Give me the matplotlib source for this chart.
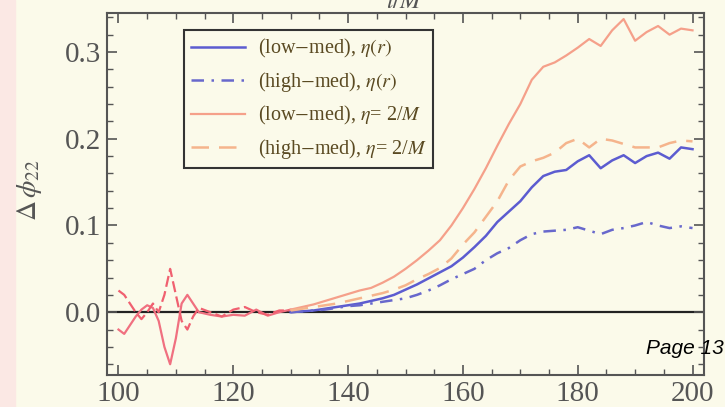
import numpy as np
import matplotlib
matplotlib.use("Agg")
from matplotlib import pyplot as plt
from matplotlib.patches import Rectangle
from matplotlib.ticker import MultipleLocator

plt.rcParams['mathtext.fontset'] = 'stix'
plt.rcParams['font.family'] = ['Liberation Serif', 'DejaVu Serif']

# early oscillating part (eta = 2/M runs)
x_early = [100, 101, 102, 103, 104, 105, 106, 107, 108, 109, 110, 111, 112, 113, 114,
           116, 118, 120, 122, 124, 126, 128, 130]
low_2m_early = [-0.02, -0.025, -0.015, -0.005, 0.003, 0.008, 0.005, -0.01, -0.04, -0.06,
                -0.03, 0.01, 0.02, 0.01, 0.0, -0.003, -0.005, -0.003, -0.004, 0.003,
                -0.004, 0.0, 0.003]
high_2m_early = [0.025, 0.02, 0.01, 0.0, -0.008, 0.0, 0.01, 0.0, 0.02, 0.05, 0.02, -0.01,
                 -0.02, -0.005, 0.005, 0.0, -0.005, 0.003, 0.006, 0.0, -0.003, 0.002, 0.002]

# main part
x_main = [130, 132, 134, 136, 138, 140, 142, 144, 146, 148, 150, 152, 154, 156, 158, 160,
          162, 164, 166, 168, 170, 172, 174, 176, 178, 180, 182, 184, 186, 188, 190, 192,
          194, 196, 198, 200]
low_2m = [0.003, 0.006, 0.009, 0.013, 0.017, 0.021, 0.025, 0.028, 0.034, 0.041, 0.050,
          0.060, 0.071, 0.083, 0.100, 0.120, 0.142, 0.166, 0.192, 0.217, 0.240, 0.268,
          0.283, 0.288, 0.296, 0.305, 0.315, 0.307, 0.325, 0.338, 0.313, 0.323, 0.330,
          0.320, 0.327, 0.325]
high_2m = [0.002, 0.004, 0.006, 0.008, 0.010, 0.013, 0.016, 0.019, 0.022, 0.026, 0.031,
           0.038, 0.044, 0.051, 0.062, 0.078, 0.092, 0.110, 0.128, 0.152, 0.168, 0.174,
           0.178, 0.184, 0.195, 0.200, 0.190, 0.200, 0.198, 0.194, 0.190, 0.190, 0.190,
           0.195, 0.198, 0.197]
low_r = [0.0, 0.001, 0.002, 0.004, 0.006, 0.008, 0.010, 0.013, 0.016, 0.020, 0.026, 0.032,
         0.039, 0.046, 0.053, 0.063, 0.075, 0.088, 0.104, 0.116, 0.128, 0.144, 0.157,
         0.162, 0.164, 0.174, 0.181, 0.166, 0.175, 0.181, 0.172, 0.180, 0.184, 0.177,
         0.190, 0.188]
high_r = [0.0, 0.001, 0.002, 0.003, 0.005, 0.007, 0.008, 0.010, 0.012, 0.014, 0.016,
          0.020, 0.025, 0.031, 0.038, 0.044, 0.050, 0.060, 0.068, 0.074, 0.083, 0.090,
          0.093, 0.094, 0.095, 0.098, 0.094, 0.090, 0.095, 0.097, 0.100, 0.104, 0.100,
          0.097, 0.099, 0.097]

labels = [r'(low$-$med), $\eta(r)$', r'(high$-$med), $\eta(r)$',
          r'(low$-$med), $\eta$= 2/$M$', r'(high$-$med), $\eta$= 2/$M$']

bg = '#fbfaea'
fig = plt.figure(figsize=[7.25, 4.07], dpi=100, facecolor=bg)
fig.patches.append(Rectangle((0, 0), 15 / 725, 1, transform=fig.transFigure,
                             color='#fbe8e4', zorder=0))
ax = fig.add_axes([107 / 725, 32 / 407, 597 / 725, 362 / 407], facecolor=bg)

ax.axhline(0, color='#222222', lw=1.6, zorder=1)

ax.plot(x_early, low_2m_early, color='#f07080', lw=1.6)
ax.plot(x_early, high_2m_early, color='#f06070', lw=1.6, ls=(0, (5, 2)))

ax.plot(x_main, low_r, color='#5c5cd0', lw=1.8, label=labels[0])
ax.plot(x_main, high_r, color='#6868cc', lw=1.8, ls=(0, (5, 3, 1, 3)), label=labels[1])
ax.plot(x_main, low_2m, color='#f5a08a', lw=1.6, label=labels[2])
ax.plot(x_main, high_2m, color='#f5b48c', lw=1.8, ls=(0, (7, 4)), label=labels[3])

ax.set_xlim(98, 202)
ax.set_ylim(-0.0724, 0.345)
ax.xaxis.set_major_locator(MultipleLocator(20))
ax.xaxis.set_minor_locator(MultipleLocator(5))
ax.yaxis.set_major_locator(MultipleLocator(0.1))
ax.yaxis.set_minor_locator(MultipleLocator(0.02))
ax.yaxis.set_major_formatter(matplotlib.ticker.FormatStrFormatter('%.1f'))
ax.tick_params(which='both', direction='in', top=True, right=True, color='#555555',
               labelsize=21, labelcolor='#555555', pad=4)
ax.tick_params(which='major', length=7, width=1.2)
ax.tick_params(which='minor', length=4, width=1.0)
for s in ax.spines.values():
    s.set_color('#555555')
    s.set_linewidth(1.5)

leg = ax.legend(loc='upper left', bbox_to_anchor=(77 / 597, 1 - 17 / 362), fontsize=14.5,
                frameon=True, fancybox=False, edgecolor='#333333', facecolor=bg,
                handlelength=2.7, labelspacing=0.5, borderpad=0.35, handletextpad=0.6,
                borderaxespad=0, framealpha=1)
leg.get_frame().set_linewidth(1.5)
for t in leg.get_texts():
    t.set_color('#5a4a22')

fig.text(30 / 725, 1 - 190 / 407, r'$\Delta\,\phi_{22}$', rotation=90, fontsize=20,
         color='#555555', ha='center', va='center')
fig.text(405 / 725, 0.995, r'$t/M$', fontsize=18, color='#555555', ha='center', va='center')
fig.text(646 / 725, 1 - 354 / 407, 'Page 13', fontsize=15, style='italic',
         family=['Liberation Sans', 'DejaVu Sans'], color='black', ha='left', va='baseline')

plt.savefig('out.png', dpi=100, facecolor=bg)
